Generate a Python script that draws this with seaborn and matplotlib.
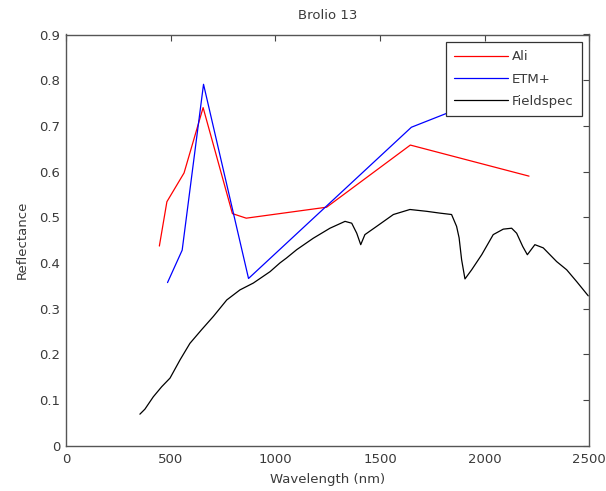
import matplotlib
matplotlib.use("Agg")
import matplotlib.pyplot as plt
import seaborn as sns
import pandas as pd

# --- data ---
ali_wl = [446, 482, 564, 655, 795, 861, 1245, 1645, 2212]
ali_refl = [0.437, 0.534, 0.597, 0.740, 0.508, 0.498, 0.522, 0.658, 0.590]

etm_wl = [485, 555, 657, 872, 1650, 2220]
etm_refl = [0.357, 0.428, 0.791, 0.366, 0.697, 0.800]

fs_wl = [353, 377, 417, 457, 497, 545, 592, 648, 704, 768, 831, 895, 975,
         1022, 1054, 1102, 1181, 1261, 1333, 1365, 1389, 1408, 1428, 1484,
         1564, 1643, 1723, 1787, 1842, 1866, 1878, 1890, 1906, 1938, 1986,
         2041, 2089, 2129, 2153, 2182, 2204, 2240, 2280, 2344, 2392, 2440,
         2495]
fs_refl = [0.069, 0.080, 0.107, 0.129, 0.148, 0.188, 0.224, 0.254, 0.283,
           0.319, 0.341, 0.356, 0.381, 0.400, 0.411, 0.429, 0.454, 0.476,
           0.491, 0.487, 0.465, 0.440, 0.462, 0.480, 0.506, 0.517, 0.513,
           0.509, 0.506, 0.480, 0.455, 0.407, 0.365, 0.385, 0.418, 0.462,
           0.474, 0.476, 0.465, 0.436, 0.418, 0.440, 0.433, 0.403, 0.385,
           0.359, 0.328]

series_names = ["Ali", "ETM+", "Fieldspec"]
series_colors = ["#ff0000", "#0000ff", "#000000"]

x_ticks = [0, 500, 1000, 1500, 2000, 2500]
x_tick_labels = ["0", "500", "1000", "1500", "2000", "2500"]
y_ticks = [0, 0.1, 0.2, 0.3, 0.4, 0.5, 0.6, 0.7, 0.8, 0.9]
y_tick_labels = ["0", "0.1", "0.2", "0.3", "0.4", "0.5", "0.6", "0.7", "0.8", "0.9"]

title = "Brolio 13"
x_label = "Wavelength (nm)"
y_label = "Reflectance"

# --- build long table ---
frames = []
for name, wl, rf in zip(series_names, [ali_wl, etm_wl, fs_wl],
                        [ali_refl, etm_refl, fs_refl]):
    frames.append(pd.DataFrame({"Wavelength": wl, "Reflectance": rf,
                                "Sensor": name}))
df = pd.concat(frames, ignore_index=True)

sns.set_theme(style="white")
plt.rcParams["font.family"] = ["DejaVu Sans"]

FS = 9.5
TXT = "#3a3a3a"

fig = plt.figure(figsize=(6.06, 4.91), dpi=100)
ax = fig.add_axes([66 / 606, 1 - 445.7 / 491, (589.3 - 66) / 606, (445.7 - 34.5) / 491])

sns.lineplot(data=df, x="Wavelength", y="Reflectance", hue="Sensor",
             hue_order=series_names, palette=dict(zip(series_names, series_colors)),
             sort=False, estimator=None, units="Sensor", linewidth=0.9, ax=ax)

ax.set_xlim(0, 2500)
ax.set_ylim(0, 0.9)
ax.set_xticks(x_ticks)
ax.set_xticklabels(x_tick_labels)
ax.set_yticks(y_ticks)
ax.set_yticklabels(y_tick_labels)

ax.tick_params(direction="in", length=4, width=0.8, color="#444444",
               top=True, right=True, labelsize=FS, labelcolor=TXT)
ax.tick_params(axis="x", pad=5)
ax.tick_params(axis="y", pad=4)
for s in ax.spines.values():
    s.set_visible(True)
    s.set_color("#555555")
    s.set_linewidth(1.0)

ax.set_title(title, fontsize=FS, color=TXT, pad=11)
ax.set_xlabel(x_label, fontsize=FS, color=TXT, labelpad=5)
ax.set_ylabel(y_label, fontsize=FS, color=TXT, labelpad=8)

leg = ax.legend(loc="upper right", fontsize=FS, frameon=True, fancybox=False,
                edgecolor="#333333", framealpha=1, handlelength=4.1,
                labelspacing=0.7, borderaxespad=0.55, handletextpad=0.25,
                borderpad=0.65)
leg.get_frame().set_linewidth(0.9)
for t in leg.get_texts():
    t.set_color(TXT)

fig.savefig("out.png", dpi=100)
